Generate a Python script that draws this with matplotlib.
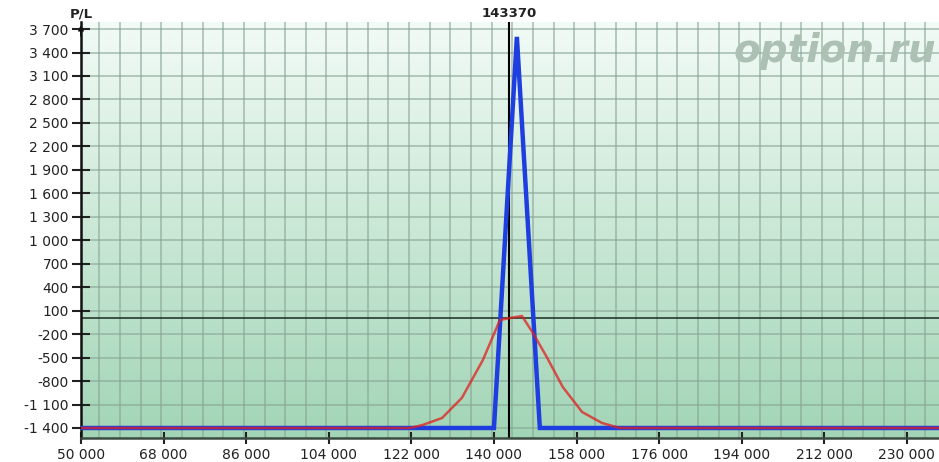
import numpy as np
import matplotlib
matplotlib.use('Agg')
import matplotlib.pyplot as plt
from matplotlib.ticker import MultipleLocator, FixedLocator, FixedFormatter
import matplotlib.transforms as mtransforms

# expiration P/L (blue) and current P/L (red)
blue_x = [40000, 140000, 145000, 150000, 245000]
blue_y = [-1400, -1400, 3600, -1400, -1400]

red_x = [40000, 121700, 124500, 128700, 133000, 137600, 141300, 143500, 146100,
         148500, 151500, 155000, 159200, 163500, 167400, 245000]
red_y = [-1400, -1400, -1361, -1272, -1016, -530, -19, 6, 32,
         -185, -492, -876, -1195, -1335, -1400, -1400]

spot = 143370
y_ticks = list(range(-1400, 3701, 300))
x_ticks = list(range(50000, 230001, 18000))


def fmt(v):
    return '{:,}'.format(v).replace(',', ' ')


plt.rcParams['font.family'] = 'DejaVu Sans'
fig = plt.figure(figsize=(9.39, 4.62), dpi=100)
ax = fig.add_axes([81 / 939, 1 - 438 / 462, 1 - 81 / 939, (438 - 22) / 462])

xmin, xmax = 50000, 237000
ymin, ymax = -1528, 3790
ax.set_xlim(xmin, xmax)
ax.set_ylim(ymin, ymax)

# background gradient
top = np.array([242, 251, 246]) / 255
bot = np.array([162, 213, 182]) / 255
t = np.linspace(0, 1, 256)[:, None]
grad = (top * (1 - t) + bot * t)[:, None, :]
ax.imshow(grad, extent=[0, 1, 0, 1], transform=ax.transAxes, aspect='auto', zorder=0)

# grid: every y tick, every 4500 on x
ax.yaxis.set_major_locator(FixedLocator(y_ticks))
ax.yaxis.set_major_formatter(FixedFormatter([fmt(v) for v in y_ticks]))
ax.xaxis.set_major_locator(FixedLocator(x_ticks))
ax.xaxis.set_major_formatter(FixedFormatter([fmt(v) for v in x_ticks]))
ax.xaxis.set_minor_locator(MultipleLocator(4500))
ax.grid(True, which='major', axis='y', color='#86a292', alpha=0.6, lw=1.3, zorder=1)
ax.grid(True, which='minor', axis='x', color='#86a292', alpha=0.6, lw=1.3, zorder=1)
ax.set_axisbelow(True)

ax.axhline(0, color='#1a2a20', lw=1.1, zorder=2)
ax.axvline(spot, color='black', lw=1.5, zorder=2)

ax.plot(blue_x, blue_y, color='#1e3ee0', lw=3.2, zorder=3, solid_joinstyle='miter')
ax.plot(red_x, red_y, color='#e02020', lw=1.8, alpha=0.75, zorder=4)

# watermark
ax.text(0.997, 0.93, 'option.ru', transform=ax.transAxes, ha='right', va='center',
        fontsize=28, fontweight='bold', style='italic', color='#adc0b4', zorder=2)

for s in ['top', 'right']:
    ax.spines[s].set_visible(False)
ax.spines['left'].set_color('#111111')
ax.spines['left'].set_linewidth(1.8)
ax.spines['bottom'].set_color('#3b4a40')
ax.spines['bottom'].set_linewidth(1.8)

ax.tick_params(axis='y', which='major', direction='inout', length=13.5, width=1.5,
               color='#222222', labelsize=10, pad=2, labelcolor='#222222')
ax.tick_params(axis='x', which='major', direction='inout', length=8.5, width=1.5,
               color='#222222', labelsize=10, pad=3, labelcolor='#222222')
ax.tick_params(axis='x', which='minor', length=0)

# arrow at top of y axis
ax.annotate('', xy=(0, 1.0), xytext=(0, 0.96), xycoords='axes fraction',
            arrowprops=dict(arrowstyle='->', color='#111111', lw=1.4,
                            mutation_scale=7), annotation_clip=False)

trans = mtransforms.blended_transform_factory(ax.transData, ax.transAxes)
ax.text(spot, 1.006, str(spot), transform=trans, ha='center', va='bottom',
        fontsize=9.5, fontweight='bold', color='#222222')
ax.text(0, 1.004, 'P/L', transform=ax.transAxes, ha='center', va='bottom',
        fontsize=9.5, fontweight='bold', color='#222222')

fig.savefig('out.png', dpi=100)
